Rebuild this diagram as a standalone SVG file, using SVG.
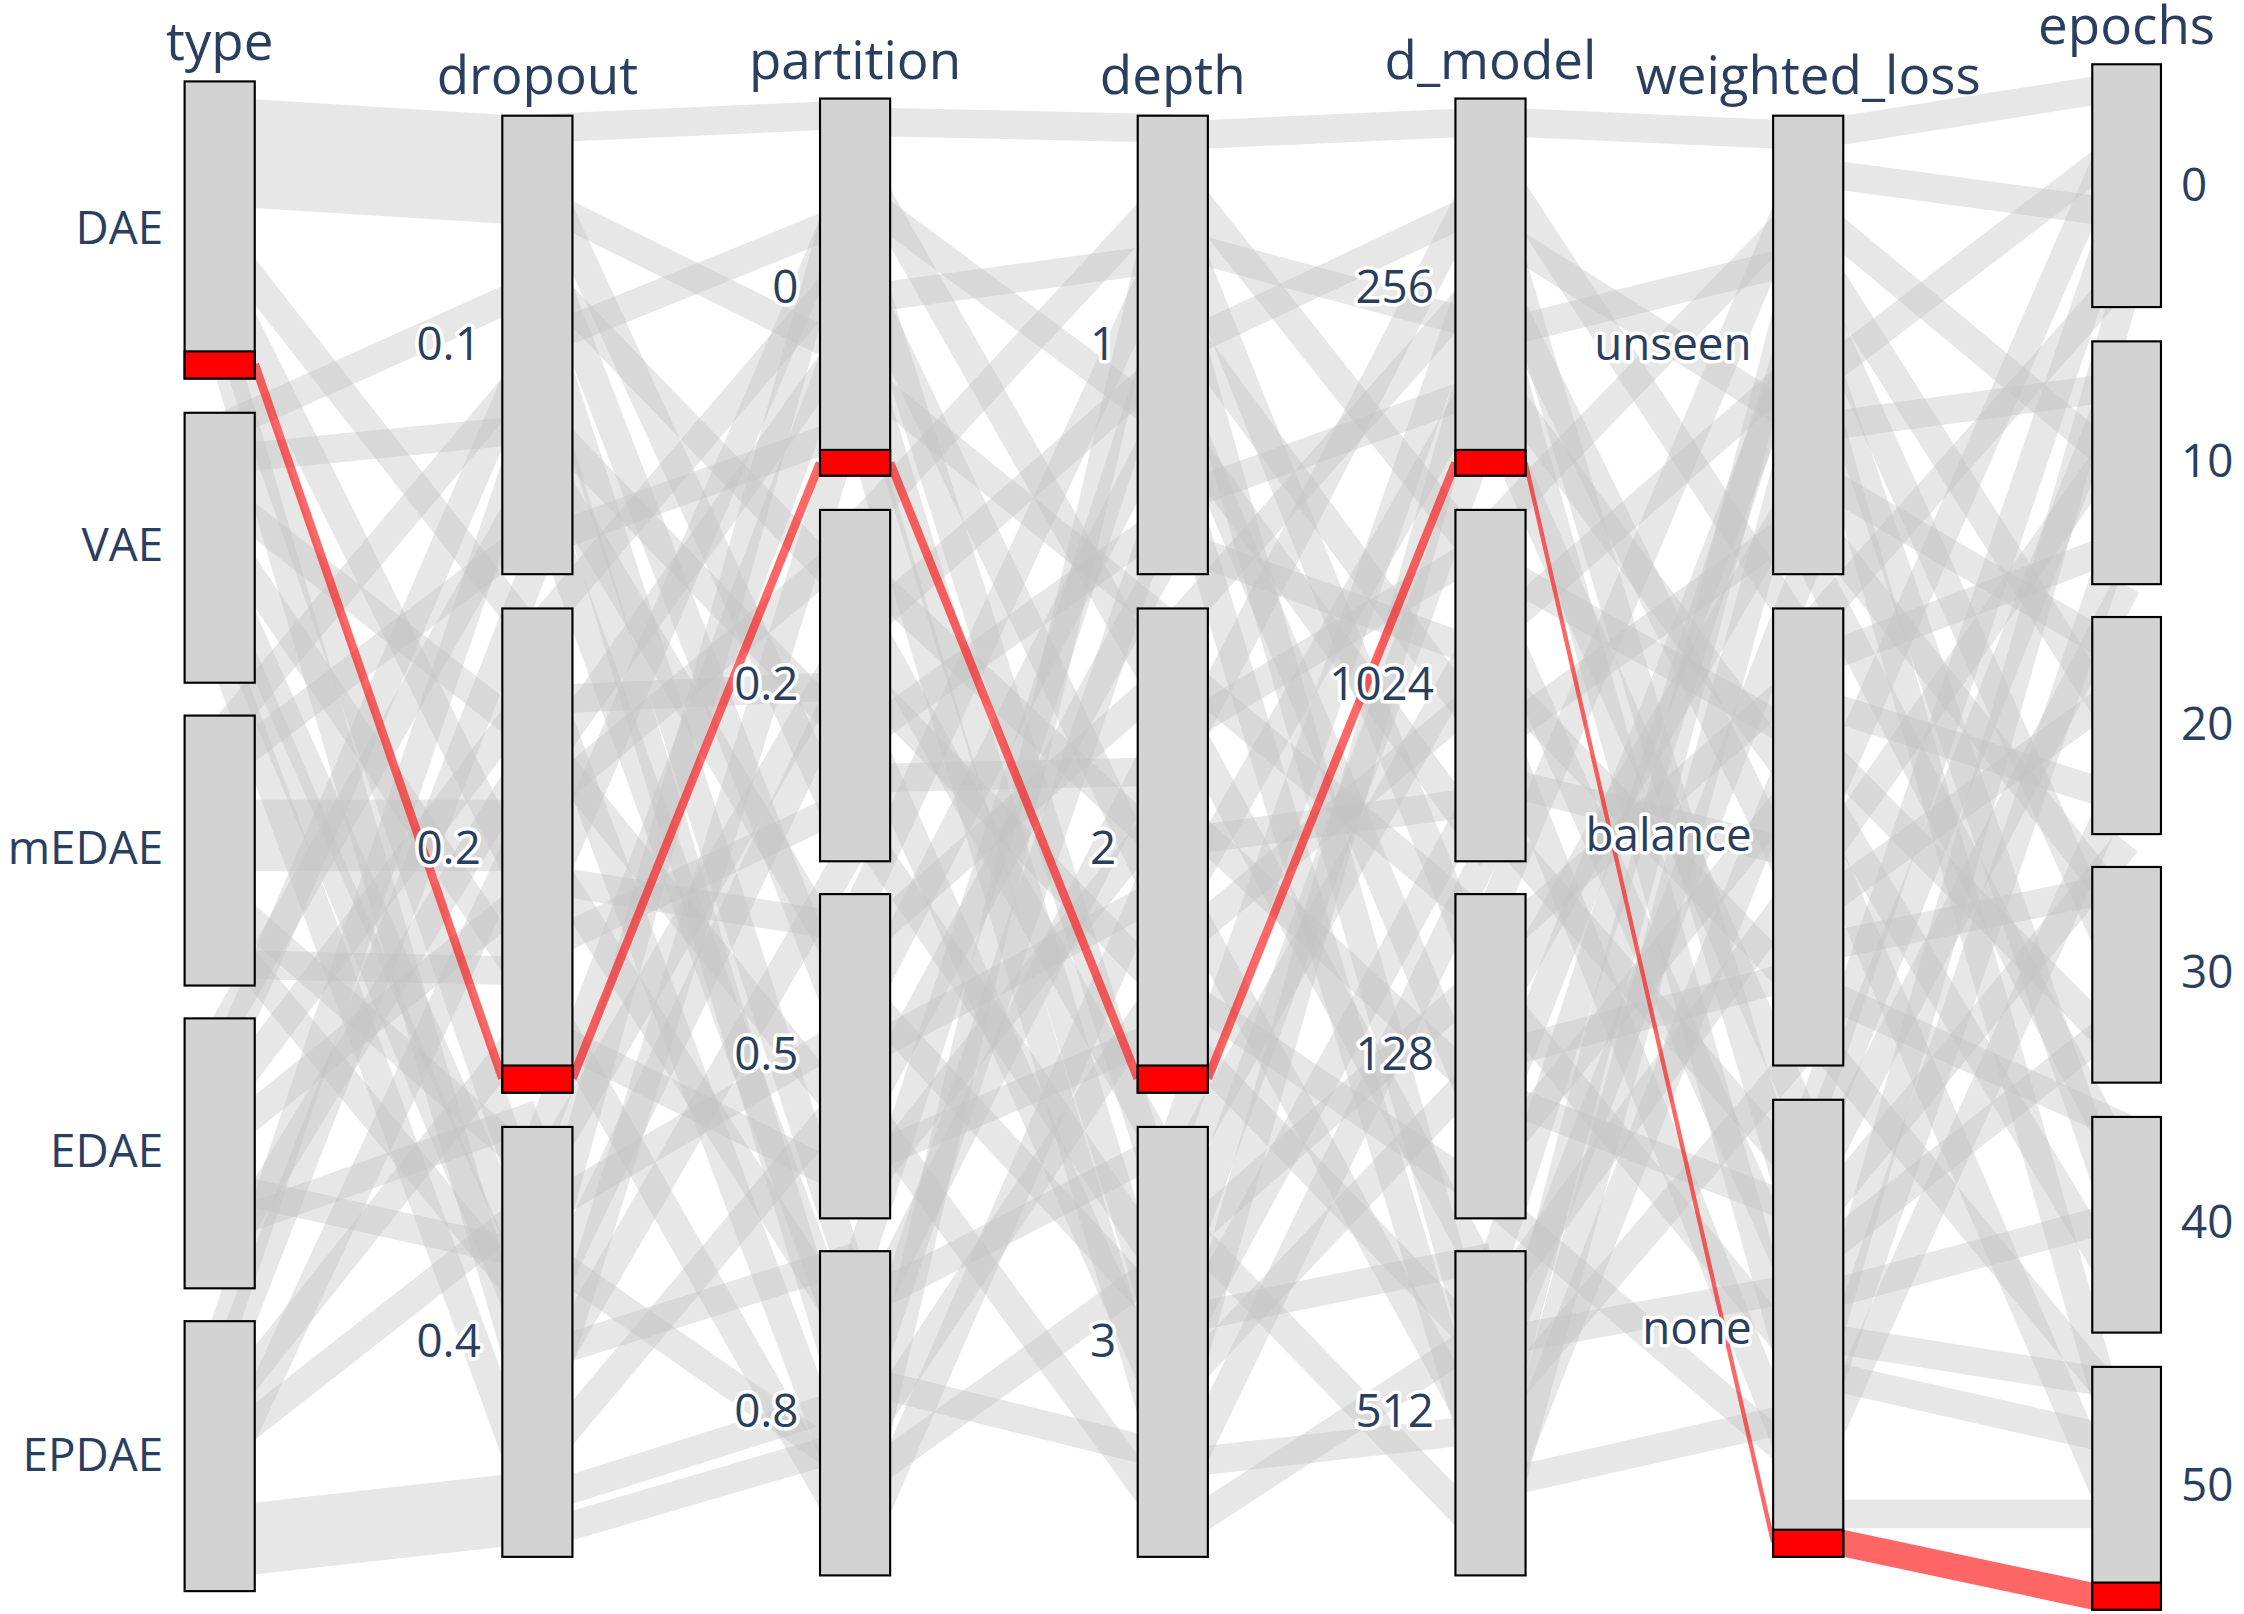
<svg xmlns="http://www.w3.org/2000/svg" width="2244" height="1614" viewBox="0 0 2244 1614">
<style>
.r{stroke:#c4c4c4;stroke-opacity:0.4;fill:none}
.b{fill:#d3d3d3;stroke:#000;stroke-width:1.5}
.sel{fill:#ff0000;stroke:#000;stroke-width:1.5}
.rl{stroke:#ff0000;stroke-opacity:0.6;fill:none}
.t{font-family:"Open Sans","DejaVu Sans",sans-serif;font-size:37px;fill:#2a3f5f;text-anchor:middle}
.l{font-family:"Open Sans","DejaVu Sans",sans-serif;font-size:32px;fill:#2a3f5f;text-anchor:end;stroke:#fff;stroke-width:5;paint-order:stroke;stroke-linejoin:round}
.le{text-anchor:start}
</style>
<rect width="2244" height="1614" fill="#fff"/>
<g transform="scale(1.4311,1.4283)">
<g id="connectors">
<g class="r" stroke-width="20">
<line x1="153" y1="106" x2="376" y2="120" stroke-width="76"/>
<line x1="153" y1="165" x2="376" y2="450"/><line x1="153" y1="190" x2="376" y2="640"/><line x1="153" y1="215" x2="376" y2="860"/><line x1="153" y1="236" x2="376" y2="1000"/>
<line x1="153" y1="300" x2="376" y2="200"/><line x1="153" y1="322" x2="376" y2="300"/><line x1="153" y1="345" x2="376" y2="520"/><line x1="153" y1="370" x2="376" y2="700"/><line x1="153" y1="395" x2="376" y2="900"/><line x1="153" y1="420" x2="376" y2="950"/><line x1="153" y1="450" x2="376" y2="1060"/>
<line x1="153" y1="515" x2="376" y2="250"/><line x1="153" y1="540" x2="376" y2="370"/><line x1="153" y1="585" x2="376" y2="585" stroke-width="50"/><line x1="153" y1="625" x2="376" y2="820"/><line x1="153" y1="650" x2="376" y2="920"/><line x1="153" y1="675" x2="376" y2="680"/>
<line x1="153" y1="725" x2="376" y2="330"/><line x1="153" y1="750" x2="376" y2="230"/><line x1="153" y1="775" x2="376" y2="480"/><line x1="153" y1="800" x2="376" y2="620"/><line x1="153" y1="830" x2="376" y2="880"/><line x1="153" y1="860" x2="376" y2="780"/><line x1="153" y1="885" x2="376" y2="520"/>
<line x1="153" y1="940" x2="376" y2="280"/><line x1="153" y1="965" x2="376" y2="390"/><line x1="153" y1="990" x2="376" y2="710"/><line x1="153" y1="1015" x2="376" y2="840"/><line x1="153" y1="1040" x2="376" y2="560"/><line x1="153" y1="1080" x2="376" y2="1055" stroke-width="50"/>
</g>
<g class="r" stroke-width="20">
<line x1="376" y1="90" x2="598" y2="80"/><line x1="376" y1="115" x2="598" y2="600"/><line x1="376" y1="140" x2="598" y2="250"/><line x1="376" y1="165" x2="598" y2="740"/><line x1="376" y1="190" x2="598" y2="420"/><line x1="376" y1="215" x2="598" y2="900"/><line x1="376" y1="240" x2="598" y2="150"/><line x1="376" y1="265" x2="598" y2="1000"/><line x1="376" y1="290" x2="598" y2="520"/><line x1="376" y1="315" x2="598" y2="690"/><line x1="376" y1="345" x2="598" y2="960"/><line x1="376" y1="380" x2="598" y2="300"/>
<line x1="376" y1="440" x2="598" y2="180"/><line x1="376" y1="465" x2="598" y2="1060"/><line x1="376" y1="490" x2="598" y2="480"/><line x1="376" y1="515" x2="598" y2="790"/><line x1="376" y1="540" x2="598" y2="230"/><line x1="376" y1="565" x2="598" y2="380"/><line x1="376" y1="590" x2="598" y2="940"/><line x1="376" y1="615" x2="598" y2="650"/><line x1="376" y1="640" x2="598" y2="120"/><line x1="376" y1="665" x2="598" y2="560"/><line x1="376" y1="690" x2="598" y2="1080"/><line x1="376" y1="720" x2="598" y2="830"/>
<line x1="376" y1="800" x2="598" y2="210"/><line x1="376" y1="825" x2="598" y2="440"/><line x1="376" y1="850" x2="598" y2="720"/><line x1="376" y1="875" x2="598" y2="1030"/><line x1="376" y1="900" x2="598" y2="100"/><line x1="376" y1="925" x2="598" y2="460"/><line x1="376" y1="950" x2="598" y2="880"/><line x1="376" y1="975" x2="598" y2="590"/><line x1="376" y1="1000" x2="598" y2="280"/><line x1="376" y1="1025" x2="598" y2="760"/><line x1="376" y1="1050" x2="598" y2="980"/><line x1="376" y1="1075" x2="598" y2="1010"/>
</g>
<g class="r" stroke-width="20">
<line x1="598" y1="85" x2="820" y2="90"/><line x1="598" y1="110" x2="820" y2="500"/><line x1="598" y1="135" x2="820" y2="300"/><line x1="598" y1="160" x2="820" y2="860"/><line x1="598" y1="185" x2="820" y2="650"/><line x1="598" y1="210" x2="820" y2="180"/><line x1="598" y1="235" x2="820" y2="960"/><line x1="598" y1="260" x2="820" y2="440"/><line x1="598" y1="290" x2="820" y2="1040"/>
<line x1="598" y1="370" x2="820" y2="130"/><line x1="598" y1="395" x2="820" y2="600"/><line x1="598" y1="420" x2="820" y2="820"/><line x1="598" y1="445" x2="820" y2="250"/><line x1="598" y1="470" x2="820" y2="700"/><line x1="598" y1="495" x2="820" y2="1000"/><line x1="598" y1="520" x2="820" y2="360"/><line x1="598" y1="545" x2="820" y2="540"/><line x1="598" y1="575" x2="820" y2="900"/>
<line x1="598" y1="640" x2="820" y2="160"/><line x1="598" y1="665" x2="820" y2="470"/><line x1="598" y1="690" x2="820" y2="930"/><line x1="598" y1="715" x2="820" y2="280"/><line x1="598" y1="740" x2="820" y2="620"/><line x1="598" y1="765" x2="820" y2="1070"/><line x1="598" y1="790" x2="820" y2="380"/><line x1="598" y1="815" x2="820" y2="720"/><line x1="598" y1="840" x2="820" y2="560"/>
<line x1="598" y1="890" x2="820" y2="210"/><line x1="598" y1="915" x2="820" y2="800"/><line x1="598" y1="940" x2="820" y2="500"/><line x1="598" y1="965" x2="820" y2="1020"/><line x1="598" y1="990" x2="820" y2="330"/><line x1="598" y1="1015" x2="820" y2="680"/><line x1="598" y1="1040" x2="820" y2="880"/><line x1="598" y1="1065" x2="820" y2="110"/><line x1="598" y1="1090" x2="820" y2="580"/>
</g>
<g class="r" stroke-width="20">
<line x1="820" y1="95" x2="1042" y2="85"/><line x1="820" y1="120" x2="1042" y2="400"/><line x1="820" y1="145" x2="1042" y2="700"/><line x1="820" y1="170" x2="1042" y2="230"/><line x1="820" y1="195" x2="1042" y2="980"/><line x1="820" y1="220" x2="1042" y2="520"/><line x1="820" y1="245" x2="1042" y2="140"/><line x1="820" y1="270" x2="1042" y2="800"/><line x1="820" y1="295" x2="1042" y2="600"/><line x1="820" y1="320" x2="1042" y2="1050"/><line x1="820" y1="350" x2="1042" y2="270"/><line x1="820" y1="380" x2="1042" y2="460"/>
<line x1="820" y1="440" x2="1042" y2="190"/><line x1="820" y1="465" x2="1042" y2="650"/><line x1="820" y1="490" x2="1042" y2="900"/><line x1="820" y1="515" x2="1042" y2="380"/><line x1="820" y1="540" x2="1042" y2="110"/><line x1="820" y1="565" x2="1042" y2="770"/><line x1="820" y1="590" x2="1042" y2="560"/><line x1="820" y1="615" x2="1042" y2="1020"/><line x1="820" y1="640" x2="1042" y2="250"/><line x1="820" y1="665" x2="1042" y2="480"/><line x1="820" y1="690" x2="1042" y2="840"/><line x1="820" y1="720" x2="1042" y2="950"/>
<line x1="820" y1="800" x2="1042" y2="160"/><line x1="820" y1="825" x2="1042" y2="430"/><line x1="820" y1="850" x2="1042" y2="1080"/><line x1="820" y1="875" x2="1042" y2="680"/><line x1="820" y1="900" x2="1042" y2="290"/><line x1="820" y1="925" x2="1042" y2="880"/><line x1="820" y1="950" x2="1042" y2="540"/><line x1="820" y1="975" x2="1042" y2="740"/><line x1="820" y1="1000" x2="1042" y2="210"/><line x1="820" y1="1025" x2="1042" y2="1000"/><line x1="820" y1="1050" x2="1042" y2="590"/><line x1="820" y1="1075" x2="1042" y2="930"/>
</g>
<g class="r" stroke-width="20">
<line x1="1042" y1="85" x2="1264" y2="95"/><line x1="1042" y1="110" x2="1264" y2="450"/><line x1="1042" y1="135" x2="1264" y2="880"/><line x1="1042" y1="160" x2="1264" y2="300"/><line x1="1042" y1="185" x2="1264" y2="640"/><line x1="1042" y1="210" x2="1264" y2="1000"/><line x1="1042" y1="235" x2="1264" y2="180"/><line x1="1042" y1="260" x2="1264" y2="560"/><line x1="1042" y1="290" x2="1264" y2="790"/>
<line x1="1042" y1="370" x2="1264" y2="140"/><line x1="1042" y1="395" x2="1264" y2="520"/><line x1="1042" y1="420" x2="1264" y2="920"/><line x1="1042" y1="445" x2="1264" y2="250"/><line x1="1042" y1="470" x2="1264" y2="700"/><line x1="1042" y1="495" x2="1264" y2="1050"/><line x1="1042" y1="520" x2="1264" y2="360"/><line x1="1042" y1="545" x2="1264" y2="600"/><line x1="1042" y1="575" x2="1264" y2="830"/>
<line x1="1042" y1="640" x2="1264" y2="110"/><line x1="1042" y1="665" x2="1264" y2="470"/><line x1="1042" y1="690" x2="1264" y2="960"/><line x1="1042" y1="715" x2="1264" y2="330"/><line x1="1042" y1="740" x2="1264" y2="680"/><line x1="1042" y1="765" x2="1264" y2="850"/><line x1="1042" y1="790" x2="1264" y2="220"/><line x1="1042" y1="815" x2="1264" y2="540"/><line x1="1042" y1="840" x2="1264" y2="1030"/>
<line x1="1042" y1="890" x2="1264" y2="200"/><line x1="1042" y1="915" x2="1264" y2="610"/><line x1="1042" y1="940" x2="1264" y2="900"/><line x1="1042" y1="965" x2="1264" y2="390"/><line x1="1042" y1="990" x2="1264" y2="730"/><line x1="1042" y1="1015" x2="1264" y2="160"/><line x1="1042" y1="1040" x2="1264" y2="990"/><line x1="1042" y1="1065" x2="1264" y2="500"/><line x1="1042" y1="1090" x2="1264" y2="270"/>
</g>
<g class="r" stroke-width="20">
<line x1="1264" y1="95" x2="1486" y2="60"/><line x1="1264" y1="120" x2="1486" y2="150"/><line x1="1264" y1="145" x2="1486" y2="330"/><line x1="1264" y1="170" x2="1486" y2="520"/><line x1="1264" y1="195" x2="1486" y2="690"/><line x1="1264" y1="220" x2="1486" y2="870"/><line x1="1264" y1="245" x2="1486" y2="1030"/><line x1="1264" y1="270" x2="1486" y2="100"/><line x1="1264" y1="300" x2="1486" y2="270"/><line x1="1264" y1="330" x2="1486" y2="460"/><line x1="1264" y1="360" x2="1486" y2="640"/><line x1="1264" y1="390" x2="1486" y2="820"/>
<line x1="1264" y1="440" x2="1486" y2="190"/><line x1="1264" y1="465" x2="1486" y2="380"/><line x1="1264" y1="490" x2="1486" y2="560"/><line x1="1264" y1="515" x2="1486" y2="740"/><line x1="1264" y1="540" x2="1486" y2="910"/><line x1="1264" y1="565" x2="1486" y2="1080"/><line x1="1264" y1="590" x2="1486" y2="80"/><line x1="1264" y1="615" x2="1486" y2="300"/><line x1="1264" y1="640" x2="1486" y2="480"/><line x1="1264" y1="665" x2="1486" y2="620"/><line x1="1264" y1="690" x2="1486" y2="790"/><line x1="1264" y1="720" x2="1486" y2="990"/>
<line x1="1264" y1="785" x2="1486" y2="130"/><line x1="1264" y1="810" x2="1486" y2="250"/><line x1="1264" y1="835" x2="1486" y2="410"/><line x1="1264" y1="860" x2="1486" y2="590"/><line x1="1264" y1="885" x2="1486" y2="710"/><line x1="1264" y1="910" x2="1486" y2="850"/><line x1="1264" y1="935" x2="1486" y2="970"/><line x1="1264" y1="960" x2="1486" y2="1010"/><line x1="1264" y1="985" x2="1486" y2="200"/><line x1="1264" y1="1010" x2="1486" y2="360"/><line x1="1264" y1="1035" x2="1486" y2="540"/><line x1="1264" y1="1060" x2="1486" y2="1060"/>
</g>
<g class="rl" stroke-width="6">
<line x1="178" y1="255" x2="351" y2="755"/>
<line x1="400" y1="755" x2="573" y2="324"/>
<line x1="622" y1="324" x2="795" y2="755"/>
<line x1="844" y1="755" x2="1017" y2="324"/>
<line x1="1066" y1="324" x2="1239" y2="1080" stroke-width="3"/>
</g>
<polygon points="1288,1071 1462,1108 1462,1127 1288,1090" fill="#ff0000" fill-opacity="0.6"/>
</g>
<g id="col-type">
<rect class="b" x="129" y="57" width="49" height="208"/><rect class="sel" x="129" y="246" width="49" height="19"/>
<rect class="b" x="129" y="289" width="49" height="189"/>
<rect class="b" x="129" y="501" width="49" height="189"/>
<rect class="b" x="129" y="713" width="49" height="189"/>
<rect class="b" x="129" y="925" width="49" height="189"/>
<text class="t" x="153.5" y="42">type</text>
<text class="l" x="114" y="171">DAE</text><text class="l" x="114" y="393">VAE</text><text class="l" x="114" y="605">mEDAE</text><text class="l" x="114" y="817">EDAE</text><text class="l" x="114" y="1030">EPDAE</text>
</g>
<g id="col-dropout">
<rect class="b" x="351" y="81" width="49" height="321"/>
<rect class="b" x="351" y="426" width="49" height="339"/><rect class="sel" x="351" y="746" width="49" height="19"/>
<rect class="b" x="351" y="789" width="49" height="301"/>
<text class="t" x="375.5" y="66">dropout</text>
<text class="l" x="336" y="252">0.1</text><text class="l" x="336" y="605">0.2</text><text class="l" x="336" y="950">0.4</text>
</g>
<g id="col-partition">
<rect class="b" x="573" y="69" width="49" height="264"/><rect class="sel" x="573" y="315" width="49" height="18"/>
<rect class="b" x="573" y="357" width="49" height="246"/>
<rect class="b" x="573" y="626" width="49" height="227"/>
<rect class="b" x="573" y="876" width="49" height="227"/>
<text class="t" x="597.5" y="55">partition</text>
<text class="l" x="558" y="212">0</text><text class="l" x="558" y="490">0.2</text><text class="l" x="558" y="749">0.5</text><text class="l" x="558" y="999">0.8</text>
</g>
<g id="col-depth">
<rect class="b" x="795" y="81" width="49" height="321"/>
<rect class="b" x="795" y="426" width="49" height="339"/><rect class="sel" x="795" y="746" width="49" height="19"/>
<rect class="b" x="795" y="789" width="49" height="301"/>
<text class="t" x="819.5" y="66">depth</text>
<text class="l" x="780" y="252">1</text><text class="l" x="780" y="605">2</text><text class="l" x="780" y="950">3</text>
</g>
<g id="col-d_model">
<rect class="b" x="1017" y="69" width="49" height="264"/><rect class="sel" x="1017" y="315" width="49" height="18"/>
<rect class="b" x="1017" y="357" width="49" height="246"/>
<rect class="b" x="1017" y="626" width="49" height="227"/>
<rect class="b" x="1017" y="876" width="49" height="227"/>
<text class="t" x="1041.5" y="55">d_model</text>
<text class="l" x="1002" y="212">256</text><text class="l" x="1002" y="490">1024</text><text class="l" x="1002" y="749">128</text><text class="l" x="1002" y="999">512</text>
</g>
<g id="col-weighted_loss">
<rect class="b" x="1239" y="81" width="49" height="321"/>
<rect class="b" x="1239" y="426" width="49" height="320"/>
<rect class="b" x="1239" y="770" width="49" height="320"/><rect class="sel" x="1239" y="1071" width="49" height="19"/>
<text class="t" x="1263.5" y="66">weighted_loss</text>
<text class="l" x="1224" y="252">unseen</text><text class="l" x="1224" y="596">balance</text><text class="l" x="1224" y="941">none</text>
</g>
<g id="col-epochs">
<rect class="b" x="1462" y="45" width="48" height="170"/>
<rect class="b" x="1462" y="239" width="48" height="170"/>
<rect class="b" x="1462" y="432" width="48" height="152"/>
<rect class="b" x="1462" y="607" width="48" height="151"/>
<rect class="b" x="1462" y="782" width="48" height="151"/>
<rect class="b" x="1462" y="957" width="48" height="170"/><rect class="sel" x="1462" y="1108" width="48" height="19"/>
<text class="t" x="1486" y="31">epochs</text>
<text class="l le" x="1524" y="141">0</text><text class="l le" x="1524" y="334">10</text><text class="l le" x="1524" y="518">20</text><text class="l le" x="1524" y="692">30</text><text class="l le" x="1524" y="867">40</text><text class="l le" x="1524" y="1051">50</text>
</g>
</g>
</svg>
